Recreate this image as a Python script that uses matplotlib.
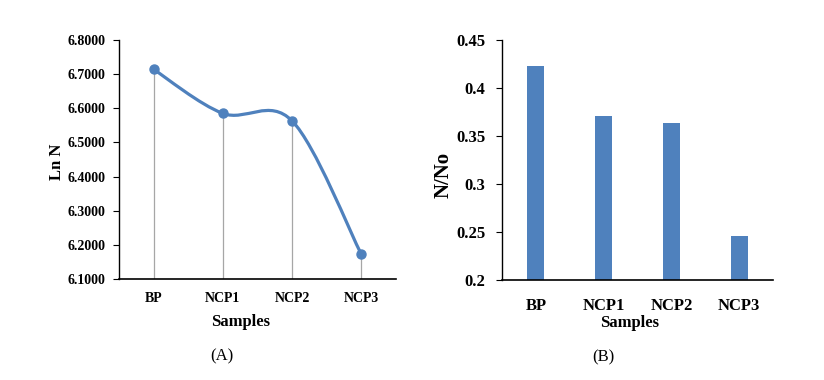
import numpy as np
import matplotlib
matplotlib.use("Agg")
import matplotlib.pyplot as plt
from matplotlib.path import Path
from matplotlib.patches import PathPatch

plt.rcParams['font.family'] = ['Liberation Serif', 'DejaVu Serif']

categories = ["BP", "NCP1", "NCP2", "NCP3"]
ln_n = [6.714, 6.585, 6.563, 6.172]
n_ratio = [0.423, 0.371, 0.364, 0.246]
ln_ticks = [6.1, 6.2, 6.3, 6.4, 6.5, 6.6, 6.7, 6.8]
ratio_ticks = [0.2, 0.25, 0.3, 0.35, 0.4, 0.45]
ratio_tick_labels = ["0.2", "0.25", "0.3", "0.35", "0.4", "0.45"]

BLUE = "#4F81BD"

fig = plt.figure(figsize=(8.24, 3.80), dpi=100)

# ---------- (A) line chart ----------
axA = fig.add_axes([119/824, 1-279/380, (396-119)/824, (279-40)/380])
x = np.arange(len(categories))
y = np.array(ln_n)
pts = np.column_stack([x, y])
# Excel-style smooth line (Bezier with 1/6 neighbour tangents)
verts = [tuple(pts[0])]
codes = [Path.MOVETO]
n = len(pts)
for i in range(n - 1):
    p0 = pts[i - 1] if i > 0 else pts[i]
    p1 = pts[i]
    p2 = pts[i + 1]
    p3 = pts[i + 2] if i + 2 < n else pts[i + 1]
    c1 = p1 + (p2 - p0) / 6.0
    c2 = p2 - (p3 - p1) / 6.0
    verts += [tuple(c1), tuple(c2), tuple(p2)]
    codes += [Path.CURVE4, Path.CURVE4, Path.CURVE4]
axA.add_patch(PathPatch(Path(verts, codes), fill=False, edgecolor=BLUE, lw=2.3,
                        capstyle='round', joinstyle='round', zorder=3))
axA.vlines(x, 6.1, y, colors="#A6A6A6", lw=0.9, zorder=2)
axA.plot(x, y, 'o', color=BLUE, ms=6.5, zorder=4)
axA.set_xlim(-0.5, 3.5)
axA.set_ylim(6.1, 6.8)
axA.set_yticks(ln_ticks)
axA.set_yticklabels([f"{t:.4f}" for t in ln_ticks])
axA.set_xticks(x)
axA.set_xticklabels(categories)
axA.tick_params(axis='x', length=0, pad=9, labelsize=10)
axA.tick_params(axis='y', length=4, width=0.8, pad=6, labelsize=10)
for lab in axA.get_xticklabels() + axA.get_yticklabels():
    lab.set_fontweight('bold')
axA.spines['top'].set_visible(False)
axA.spines['right'].set_visible(False)
axA.spines['left'].set_linewidth(1.0)
axA.spines['bottom'].set_linewidth(1.2)
axA.set_xlabel("Samples", fontsize=12, fontweight='bold')
axA.xaxis.set_label_coords(0.44, -0.179)
axA.xaxis.label.set_va('center')
axA.set_ylabel("Ln N", fontsize=12, fontweight='bold')
axA.yaxis.set_label_coords(-0.224, 0.49)
axA.yaxis.label.set_va('center')

# ---------- (B) bar chart ----------
axB = fig.add_axes([502/824, 1-280/380, (773-502)/824, (280-40)/380])
axB.bar(x, n_ratio, width=0.25, color=BLUE, zorder=2)
axB.set_xlim(-0.5, 3.5)
axB.set_ylim(0.2, 0.45)
axB.set_yticks(ratio_ticks)
axB.set_yticklabels(ratio_tick_labels)
axB.set_xticks(x)
axB.set_xticklabels(categories)
axB.tick_params(axis='x', length=0, pad=13, labelsize=12)
axB.tick_params(axis='y', length=4, width=0.8, pad=8, labelsize=12)
for lab in axB.get_xticklabels() + axB.get_yticklabels():
    lab.set_fontweight('bold')
axB.spines['top'].set_visible(False)
axB.spines['right'].set_visible(False)
axB.spines['left'].set_linewidth(1.0)
axB.spines['bottom'].set_linewidth(1.2)
axB.set_xlabel("Samples", fontsize=12, fontweight='bold')
axB.xaxis.set_label_coords(0.472, -0.179)
axB.xaxis.label.set_va('center')
axB.set_ylabel("N/No", fontsize=15, fontweight='bold')
axB.yaxis.set_label_coords(-0.215, 0.4375)
axB.yaxis.label.set_va('center')

fig.text(221.7/824, 1-356.7/380, "(A)", ha='center', va='center', fontsize=12)
fig.text(603/824, 1-357/380, "(B)", ha='center', va='center', fontsize=12)

fig.savefig("out.png", dpi=100)
